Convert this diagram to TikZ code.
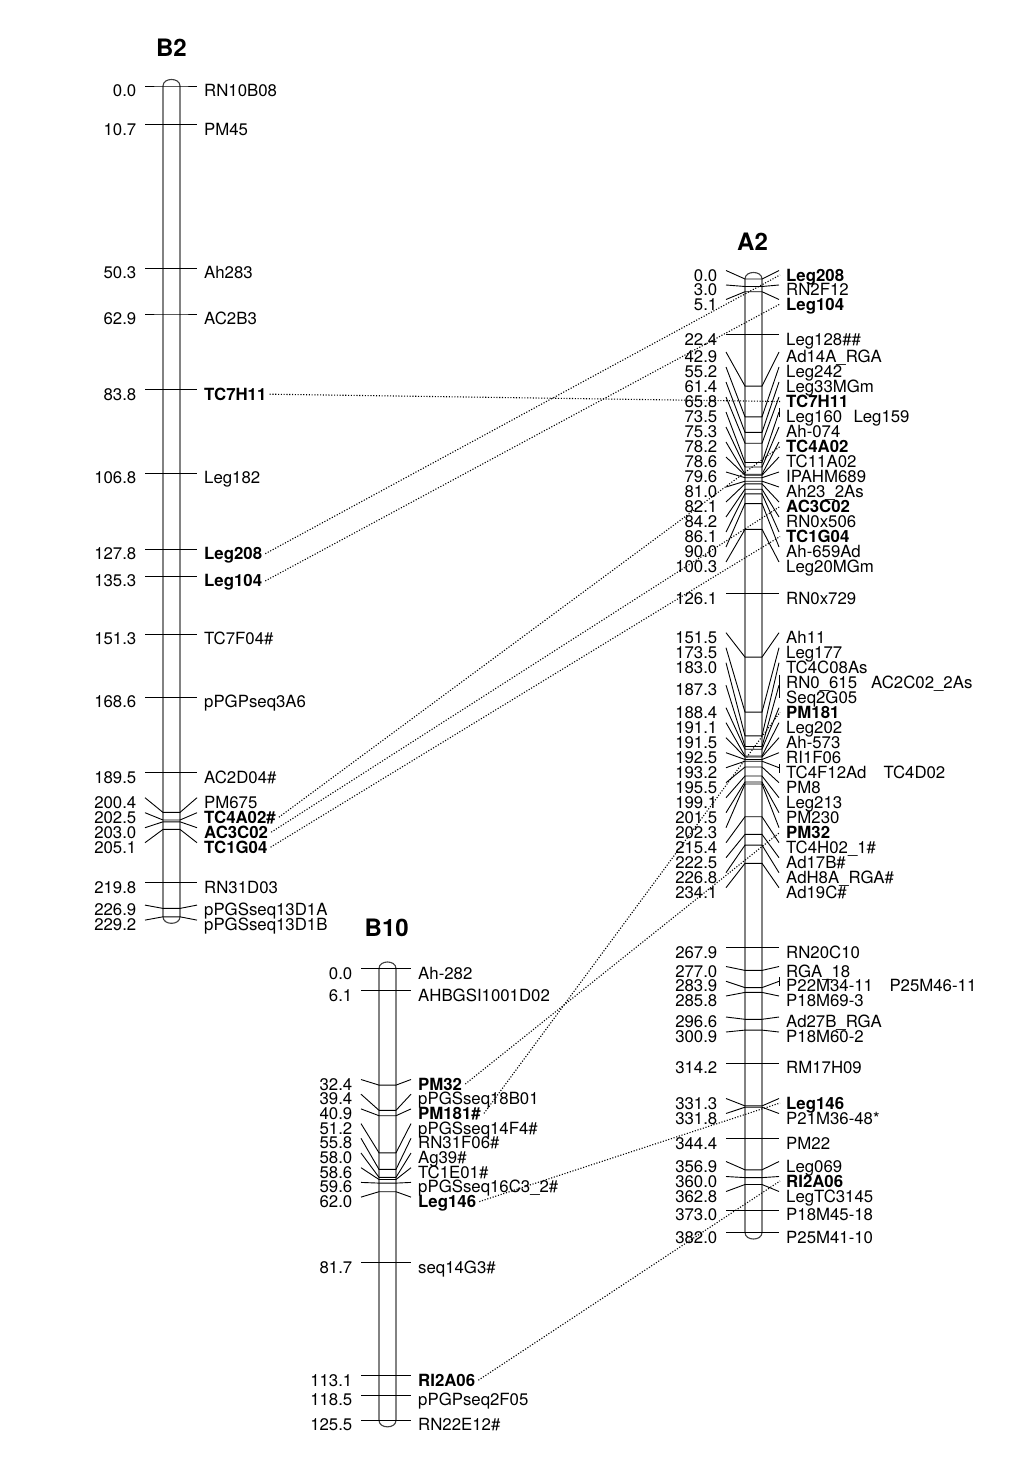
\documentclass[tikz,border=0pt]{standalone}
\usepackage{fontspec}
\setmainfont{TeX Gyre Heros}
\newcommand\mylbl{\fontsize{16.8}{18}\selectfont}
\newcommand\myttl{\fontsize{24}{24}\selectfont\bfseries}
\newcommand\setchr[4]{\def\xTL{#1}\def\xBL{#2}\def\xBR{#3}\def\xTR{#4}}
\newcommand\drawbar[2]{%
  \draw[barline] (\xBL,#1) -- (\xBL,#2) .. controls (\xBL,#2+8.7) and (\xBR,#2+8.7) .. (\xBR,#2)
     -- (\xBR,#1) .. controls (\xBR,#1-8.7) and (\xBL,#1-8.7) .. cycle;}
% id, marker y, label y, number, name
\newcommand\mrk[5]{%
  \draw[tickline] (\xTL,#3) -- (\xBL,#2) -- (\xBR,#2) -- (\xTR,#3);
  \node[numlbl] (#1n) at (\xTL-8.5,#3+10.5) {#4};
  \node[namelbl] (#1) at (\xTR+7,#3+10.5) {#5};
  \coordinate (#1c) at (\xTR+1,#3+4.5);}
% with bracket and second name at x
\newcommand\mrkb[7]{%
  \mrk{#1}{#2}{#3}{#4}{#5}
  \draw[tickline] (\xTR,#3-4) -- (\xTR,#3+5);
  \node[namelbl] (#1x) at (#7,#3+10.5) {#6};}
\begin{document}
\begin{tikzpicture}[x=1pt,y=-1pt,
  tickline/.style={line width=0.9pt,black},
  barline/.style={line width=1.1pt,black!75},
  conn/.style={line width=1.1pt,black,dash pattern=on 1.1pt off 1.7pt},
  numlbl/.style={anchor=base east,inner sep=0pt,font=\mylbl},
  namelbl/.style={anchor=base west,inner sep=0pt,font=\mylbl},
  ttl/.style={inner sep=0pt,font=\myttl}]
\fill[white] (0,0) rectangle (1024,1479);
\useasboundingbox (0,0) rectangle (1024,1479);

% ---------------- B2 ----------------
\node[ttl] (tB2) at (171.5,48) {B2};
\setchr{145}{163}{180}{197}
\drawbar{86}{916.8}
\mrk{b2a}{86}{86}{0.0}{RN10B08}
\mrk{b2b}{124.8}{124.8}{10.7}{PM45}
\mrk{b2c}{268.3}{268.3}{50.3}{Ah283}
\mrk{b2d}{314.0}{314.0}{62.9}{AC2B3}
\mrk{b2e}{389.7}{389.7}{83.8}{\bfseries TC7H11}
\mrk{b2f}{473.1}{473.1}{106.8}{Leg182}
\mrk{b2g}{549.2}{549.2}{127.8}{\bfseries Leg208}
\mrk{b2h}{576.4}{576.4}{135.3}{\bfseries Leg104}
\mrk{b2i}{634.4}{634.4}{151.3}{TC7F04\#}
\mrk{b2j}{697.1}{697.1}{168.6}{pPGPseq3A6}
\mrk{b2k}{772.9}{772.9}{189.5}{AC2D04\#}
\mrk{b2l}{812.4}{797.7}{200.4}{PM675}
\mrk{b2m}{820.0}{812.7}{202.5}{\bfseries TC4A02\#}
\mrk{b2n}{821.8}{827.7}{203.0}{\bfseries AC3C02}
\mrk{b2o}{829.4}{842.7}{205.1}{\bfseries TC1G04}
\mrk{b2p}{882.7}{882.7}{219.8}{RN31D03}
\mrk{b2q}{908.4}{905.1}{226.9}{pPGSseq13D1A}
\mrk{b2r}{916.8}{920.1}{229.2}{pPGSseq13D1B}

% ---------------- B10 ----------------
\node[ttl] (tB10) at (386.7,928) {B10};
\setchr{361}{379}{396}{411}
\drawbar{968.5}{1420.3}
\mrk{c10a}{968.5}{968.5}{0.0}{Ah-282}
\mrk{c10b}{990.5}{990.5}{6.1}{AHBGSI1001D02}
\mrk{c10c}{1085.1}{1079.5}{32.4}{\bfseries PM32}
\mrk{c10d}{1110.3}{1094.2}{39.4}{pPGSseq18B01}
\mrk{c10e}{1115.7}{1108.9}{40.9}{\bfseries PM181\#}
\mrk{c10f}{1152.8}{1123.6}{51.2}{pPGSseq14F4\#}
\mrk{c10g}{1169.4}{1138.3}{55.8}{RN31F06\#}
\mrk{c10h}{1177.3}{1153.0}{58.0}{Ag39\#}
\mrk{c10i}{1179.5}{1167.7}{58.6}{TC1E01\#}
\mrk{c10j}{1183.1}{1182.4}{59.6}{pPGSseq16C3\_2\#}
\mrk{c10k}{1191.7}{1197.1}{62.0}{\bfseries Leg146}
\mrk{c10l}{1262.6}{1262.6}{81.7}{seq14G3\#}
\mrk{c10m}{1375.7}{1375.7}{113.1}{\bfseries RI2A06}
\mrk{c10n}{1395.1}{1395.1}{118.5}{pPGPseq2F05}
\mrk{c10o}{1420.3}{1420.3}{125.5}{RN22E12\#}

% ---------------- A2 ----------------
\node[ttl] (tA2) at (752.5,241.5) {A2};
\setchr{726}{745}{762}{779}
\drawbar{279}{1232.5}
\mrk{a01}{279.0}{270.5}{0.0}{\bfseries Leg208}
\mrk{a02}{286.5}{285.0}{3.0}{RN2F12}
\mrk{a03}{291.7}{299.5}{5.1}{\bfseries Leg104}
\mrk{a04}{334.9}{334.9}{22.4}{Leg128\#\#}
\mrk{a05}{386.1}{352}{42.9}{Ad14A\_RGA}
\mrk{a06}{416.8}{367}{55.2}{Leg242}
\mrk{a07}{432.3}{382}{61.4}{Leg33MGm}
\mrk{a08}{443.2}{397}{65.8}{\bfseries TC7H11}
\mrkb{a09}{462.5}{412}{73.5}{Leg160}{Leg159}{853.3}
\mrk{a10}{467.0}{427}{75.3}{Ah-074}
\mrk{a11}{474.2}{442}{78.2}{\bfseries TC4A02}
\mrk{a12}{475.2}{457}{78.6}{TC11A02}
\mrk{a13}{477.7}{472}{79.6}{IPAHM689}
\mrk{a14}{481.2}{487}{81.0}{Ah23\_2As}
\mrk{a15}{483.9}{502}{82.1}{\bfseries AC3C02}
\mrk{a16}{489.2}{517}{84.2}{RN0x506}
\mrk{a17}{493.9}{532}{86.1}{\bfseries TC1G04}
\mrk{a18}{503.6}{547}{90.0}{Ah-659Ad}
\mrk{a19}{529.3}{562}{100.3}{Leg20MGm}
\mrk{a20}{593.7}{593.7}{126.1}{RN0x729}
\mrk{a21}{657.1}{632.7}{151.5}{Ah11}
\mrk{a22}{712.1}{647.7}{173.5}{Leg177}
\mrk{a23}{735.8}{662.7}{183.0}{TC4C08As}
% 187.3 : three names on two rows
\draw[tickline] (\xTL,685.2) -- (\xBL,746.5) -- (\xBR,746.5) -- (\xTR,685.2);
\draw[tickline] (\xTR,674.7) -- (\xTR,698);
\node[numlbl] (a24n) at (\xTL-8.5,695.7) {187.3};
\node[namelbl] (a24) at (\xTR+7,688.2) {RN0\_615};
\node[namelbl] (a24x) at (871,688.2) {AC2C02\_2As};
\node[namelbl] (a24y) at (\xTR+7,703.2) {Seq2G05};
\mrk{a25}{749.2}{707.7}{188.4}{\bfseries PM181}
\mrk{a26}{756.0}{722.7}{191.1}{Leg202}
\mrk{a27}{757.0}{737.7}{191.5}{Ah-573}
\mrk{a28}{759.5}{752.7}{192.5}{RI1F06}
\mrkb{a29}{761.2}{767.7}{193.2}{TC4F12Ad}{TC4D02}{883.3}
\mrk{a30}{767.0}{782.7}{195.5}{PM8}
\mrk{a31}{776.0}{797.7}{199.1}{Leg213}
\mrk{a32}{782.0}{812.7}{201.5}{PM230}
\mrk{a33}{784.0}{827.7}{202.3}{\bfseries PM32}
\mrk{a34}{816.7}{842.7}{215.4}{TC4H02\_1\#}
\mrk{a35}{834.4}{857.7}{222.5}{Ad17B\#}
\mrk{a36}{845.1}{872.7}{226.8}{AdH8A\_RGA\#}
\mrk{a37}{863.3}{887.7}{234.1}{Ad19C\#}
\mrk{a38}{947.7}{947.7}{267.9}{RN20C10}
\mrk{a39}{970.4}{966.5}{277.0}{RGA\_18}
\mrkb{a40}{987.6}{981.3}{283.9}{P22M34-11}{P25M46-11}{889.3}
\mrk{a41}{992.4}{996.0}{285.8}{P18M69-3}
\mrk{a42}{1019.3}{1017.0}{296.6}{Ad27B\_RGA}
\mrk{a43}{1030.1}{1032.0}{300.9}{P18M60-2}
\mrk{a44}{1063.2}{1063.2}{314.2}{RM17H09}
\mrk{a45}{1105.9}{1098.5}{331.3}{\bfseries Leg146}
\mrk{a46}{1107.2}{1113.5}{331.8}{P21M36-48*}
\mrk{a47}{1138.6}{1138.6}{344.4}{PM22}
\mrk{a48}{1169.8}{1161.5}{356.9}{Leg069}
\mrk{a49}{1177.6}{1176.5}{360.0}{\bfseries RI2A06}
\mrk{a50}{1184.5}{1191.5}{362.8}{LegTC3145}
\mrk{a51}{1210.0}{1210.0}{373.0}{P18M45-18}
\mrk{a52}{1232.5}{1232.5}{382.0}{P25M41-10}

% ---------------- connectors ----------------
\draw[conn] ([xshift=3pt,yshift=6pt]b2e.base east) -- (a08c);
\draw[conn] ([xshift=3pt,yshift=6pt]b2g.base east) -- (a01c);
\draw[conn] ([xshift=3pt,yshift=6pt]b2h.base east) -- (a03c);
\draw[conn] ([xshift=3pt,yshift=6pt]b2m.base east) -- (a11c);
\draw[conn] ([xshift=3pt,yshift=6pt]b2n.base east) -- (a15c);
\draw[conn] ([xshift=3pt,yshift=6pt]b2o.base east) -- (a17c);
\draw[conn] ([xshift=3pt,yshift=6pt]c10c.base east) -- (a33c);
\draw[conn] ([xshift=3pt,yshift=6pt]c10e.base east) -- (a25c);
\draw[conn] ([xshift=3pt,yshift=6pt]c10k.base east) -- (a45c);
\draw[conn] ([xshift=3pt,yshift=6pt]c10m.base east) -- (a49c);
\end{tikzpicture}
\end{document}
